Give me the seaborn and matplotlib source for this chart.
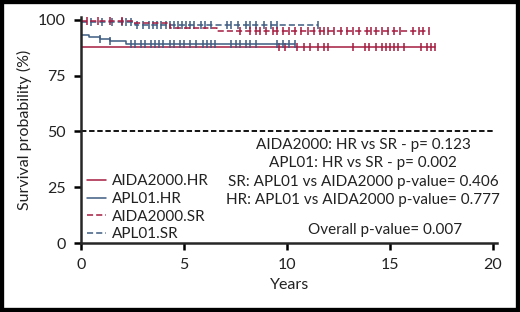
import numpy as np
import pandas as pd
import seaborn as sns
import matplotlib.pyplot as plt
from matplotlib.lines import Line2D
from matplotlib.patches import Rectangle

# Kaplan-Meier step curves (event times, survival %) + censoring times
groups = ["AIDA2000.HR", "APL01.HR", "AIDA2000.SR", "APL01.SR"]

aida_hr_t = [0.0]
aida_hr_s = [87.8]
aida_hr_end = 17.2
aida_hr_cens = [9.6, 9.9, 10.5, 10.8, 11.1, 11.5, 11.8, 12.0, 13.2, 13.8, 14.0, 14.3,
                14.6, 14.8, 15.0, 15.2, 15.4, 15.7, 16.5, 16.8, 17.0, 17.2]

apl_hr_t = [0.0, 0.4, 0.9, 1.4, 2.2]
apl_hr_s = [93.3, 92.5, 91.6, 90.5, 89.2]
apl_hr_end = 10.4
apl_hr_cens = [0.9, 1.4, 2.4, 2.6, 2.9, 3.1, 3.4, 3.6, 3.8, 4.0, 4.3, 4.5, 4.8, 5.0,
               5.3, 5.6, 5.9, 6.1, 6.3, 6.5, 7.3, 7.5, 7.7, 8.0, 8.2, 8.5, 9.5,
               9.8, 10.1, 10.4]

aida_sr_t = [0.0, 2.5, 4.3, 6.6]
aida_sr_s = [99.6, 98.4, 96.2, 94.8]
aida_sr_end = 16.9
aida_sr_cens = [0.3, 0.8, 1.4, 2.0, 7.7, 8.2, 8.5, 8.7, 9.0, 9.3, 9.5, 9.8, 10.1, 10.4,
                10.7, 11.0, 11.3, 11.6, 11.8, 12.0, 12.3, 12.6, 12.9, 13.2, 13.5,
                13.9, 14.1, 14.3, 14.6, 14.9, 15.2, 15.5, 16.1, 16.4, 16.6, 16.9]

apl_sr_t = [0.0, 2.6]
apl_sr_s = [99.2, 97.8]
apl_sr_end = 11.5
apl_sr_cens = [0.5, 1.0, 1.5, 2.0, 2.2, 2.4, 2.7, 3.0, 3.3, 3.5, 3.7, 3.9, 4.1, 4.3,
               4.5, 4.7, 4.9, 5.1, 5.3, 5.5, 5.8, 6.0, 6.3, 7.1, 7.3, 7.6, 8.0,
               8.2, 8.5, 8.9, 9.2, 9.5, 11.5]

pvals = ["AIDA2000: HR vs SR - p= 0.123",
         "APL01: HR vs SR - p= 0.002",
         "SR: APL01 vs AIDA2000 p-value= 0.406",
         "HR: APL01 vs AIDA2000 p-value= 0.777"]
overall = "Overall p-value= 0.007"

red = "#a51c40"
blue = "#3e5c83"
styles = {"AIDA2000.HR": (red, "-"), "APL01.HR": (blue, "-"),
          "AIDA2000.SR": (red, (0, (4, 2))), "APL01.SR": (blue, (0, (4, 2)))}

curves = {
    "AIDA2000.HR": (aida_hr_t, aida_hr_s, aida_hr_end, aida_hr_cens),
    "APL01.HR": (apl_hr_t, apl_hr_s, apl_hr_end, apl_hr_cens),
    "AIDA2000.SR": (aida_sr_t, aida_sr_s, aida_sr_end, aida_sr_cens),
    "APL01.SR": (apl_sr_t, apl_sr_s, apl_sr_end, apl_sr_cens),
}

sns.set_style("ticks")
plt.rcParams['font.family'] = ['Lato', 'DejaVu Sans']

fig = plt.figure(figsize=(5.2, 3.12), dpi=100)
ax = fig.add_axes([0.156, 0.221, 0.8, 0.726])

# draw order: SR behind HR
for g in ["APL01.SR", "AIDA2000.SR", "AIDA2000.HR", "APL01.HR"]:
    t, s, end, cens = curves[g]
    color, ls = styles[g]
    df = pd.DataFrame({"t": t + [end], "s": s + [s[-1]]})
    sns.lineplot(data=df, x="t", y="s", ax=ax, color=color, linestyle=ls,
                 drawstyle="steps-post", lw=1.1, estimator=None, sort=False)
    idx = np.searchsorted(np.array(t), np.array(cens), side="right") - 1
    cdf = pd.DataFrame({"t": cens, "s": np.array(s)[idx]})
    ax.plot(cdf["t"], cdf["s"], ls="none", marker="|", ms=5.5, mew=1.1, color=color)

ax.axhline(50, xmin=0, xmax=20 / 20.2, color="black", ls=(0, (3, 1.5)), lw=1.3)

ax.set_xlim(0, 20.2)
ax.set_ylim(0, 101.5)
ax.set_xticks([0, 5, 10, 15, 20])
ax.set_yticks([0, 25, 50, 75, 100])
ax.spines["left"].set_bounds(0, 101.5)
ax.spines["bottom"].set_bounds(0, 20.2)
for sp in ["left", "bottom"]:
    ax.spines[sp].set_linewidth(1.8)
sns.despine(ax=ax)
ax.tick_params(axis="both", length=5, width=1.8, labelsize=11.5, pad=6, colors="black")
ax.tick_params(axis="both", labelcolor="#222222")
ax.set_xlabel("Years", fontsize=11.5, labelpad=4, color="#222222")
ax.set_ylabel("Survival probability (%)", fontsize=11.5, labelpad=4, color="#222222")

for i, txt in enumerate(pvals):
    ax.text(13.7, [43.9, 35.9, 27.4, 19.3][i], txt, ha="center", va="center",
            fontsize=11, color="#222222")
ax.text(14.76, 5.8, overall, ha="center", va="center", fontsize=11, color="#222222")

handles = [Line2D([], [], color=styles[g][0], linestyle=styles[g][1], lw=1.1) for g in groups]
ax.legend(handles, groups, loc="upper left", bbox_to_anchor=(0.0, 0.33), frameon=False,
          fontsize=11, handlelength=1.2, handletextpad=0.45, labelspacing=0.24,
          borderaxespad=0, labelcolor="#222222")

fig.patches.append(Rectangle((0, 0), 1, 1, transform=fig.transFigure, fill=False,
                             ec="black", lw=6, zorder=10))

plt.savefig("out.png", dpi=100)
